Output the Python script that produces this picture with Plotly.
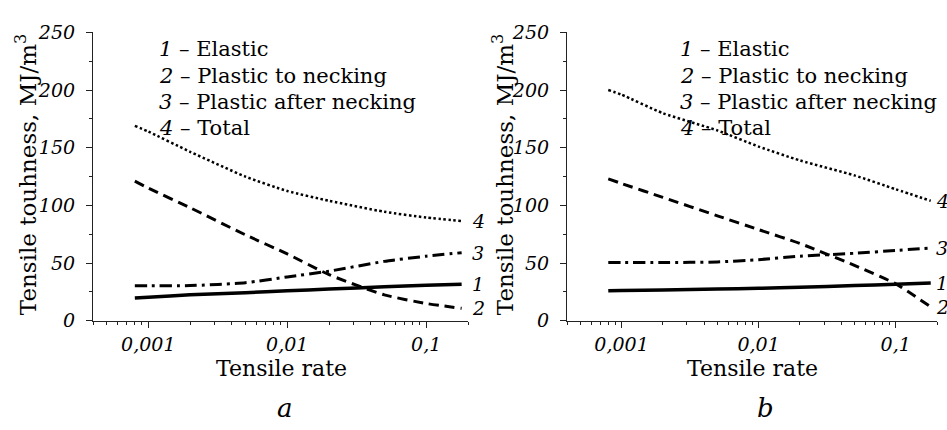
import numpy as np
import plotly.graph_objects as go

# ---------------- data ----------------
rate = [0.0008, 0.001, 0.002, 0.005, 0.01, 0.02, 0.05, 0.1, 0.18]

a_elastic = [19.8, 20.5, 22.5, 24.3, 26.0, 27.5, 29.5, 30.8, 31.7]
a_plastic_to_necking = [121, 115, 98, 74.5, 58, 40, 22.5, 15, 10.8]
a_plastic_after_necking = [30.3, 30.3, 30.5, 33.0, 38.0, 43.0, 51.5, 56.0, 59.0]
a_total = [169, 164, 146.5, 125, 112.5, 104, 94.5, 89.5, 86.5]

b_elastic = [26.0, 26.2, 26.7, 27.5, 28.2, 29.0, 30.5, 31.7, 32.8]
b_plastic_to_necking = [123, 119, 107, 91, 79, 67, 48, 32, 12]
b_plastic_after_necking = [50.5, 50.5, 50.5, 51.0, 53.0, 56.0, 58.5, 61.0, 63.0]
b_total = [200, 196, 180, 165, 151, 139, 126, 114, 104]

legend_lines = ["<i>1</i> – Elastic", "<i>2</i> – Plastic to necking",
                "<i>3</i> – Plastic after necking", "<i>4</i> – Total"]
curve_ids = ["1", "2", "3", "4"]
x_tickvals = [0.001, 0.01, 0.1]
x_ticktext = ["0,001", "0,01", "0,1"]
y_tickvals = [0, 50, 100, 150, 200, 250]
panel_labels = ["a", "b"]

# ---------------- style ----------------
FONT = "DejaVu Serif"
W, H = 947, 430

def px(x):   # page pixel -> paper fraction
    return x / W

def py(y):
    return 1 - y / H

styles = {
    "1": dict(color="black", width=3.5, dash="solid"),
    "2": dict(color="black", width=3, dash="10px,6px"),
    "3": dict(color="black", width=3, dash="12px,5px,3px,5px"),
    "4": dict(color="black", width=2.5, dash="2.5px,2.5px"),
}

fig = go.Figure()

panels = [
    ("x", "y", [a_elastic, a_plastic_to_necking, a_plastic_after_necking, a_total], 8),
    ("x2", "y2", [b_elastic, b_plastic_to_necking, b_plastic_after_necking, b_total], 3),
]
for xa, ya, series, xs in panels:
    for cid, vals in zip(curve_ids, series):
        fig.add_trace(go.Scatter(
            x=rate, y=vals, mode="lines", xaxis=xa, yaxis=ya,
            line=dict(shape="spline", smoothing=0.6, **styles[cid]),
            showlegend=False, hoverinfo="skip"))
        fig.add_annotation(
            x=np.log10(rate[-1]), y=vals[-1], xref=xa, yref=ya,
            text=f"<i>{cid}</i>", showarrow=False, xanchor="left",
            xshift=xs, font=dict(family=FONT, size=19, color="black"))

minor_x = [m * 10.0 ** e for e in range(-4, 0) for m in range(2, 10)]
minor_x = [v for v in minor_x if 0.0004 <= v <= 0.2] + [0.0004]

def xaxis_cfg(domain, anchor):
    return dict(
        type="log", domain=domain, anchor=anchor,
        range=[np.log10(0.0004), np.log10(0.2)],
        tickmode="array", tickvals=x_tickvals, ticktext=x_ticktext,
        ticks="outside", ticklen=6, tickwidth=1.2, tickcolor="#222",
        showline=True, linecolor="#222", linewidth=1.2,
        showgrid=False, zeroline=False,
        tickfont=dict(family=FONT, size=19, style="italic", color="black"),
        minor=dict(tickmode="array", tickvals=minor_x, ticks="outside",
                   ticklen=3, tickwidth=1, tickcolor="#222", showgrid=False),
    )

def yaxis_cfg(domain, anchor):
    return dict(
        domain=domain, anchor=anchor, range=[0, 250],
        tickmode="array", tickvals=y_tickvals,
        ticks="outside", ticklen=6, tickwidth=1.2, tickcolor="#222",
        showline=True, linecolor="#222", linewidth=1.2,
        showgrid=False, zeroline=False, ticklabelstandoff=7,
        tickfont=dict(family=FONT, size=19, style="italic", color="black"),
        minor=dict(dtick=25, ticks="outside", ticklen=3, tickwidth=1,
                   tickcolor="#222", showgrid=False),
    )

ydom = [py(326.5), py(22.5)]
fig.update_layout(
    width=W, height=H, margin=dict(l=0, r=0, t=0, b=0),
    plot_bgcolor="white", paper_bgcolor="white",
    font=dict(family=FONT, color="black"),
    xaxis=xaxis_cfg([px(93), px(468)], "y"),
    yaxis=yaxis_cfg(ydom, "x"),
    xaxis2=xaxis_cfg([px(567), px(937)], "y2"),
    yaxis2=yaxis_cfg(ydom, "x2"),
)

legend_x = [157, 678]
legend_y = [40, 68, 96, 123]
ytitle_x = [26, 503]
xtitle_x = [281, 752]
letter_x = [285, 765]
for p in range(2):
    for txt, yy in zip(legend_lines, legend_y):
        fig.add_annotation(x=px(legend_x[p]), y=py(yy), xref="paper", yref="paper",
                           text=txt, showarrow=False, xanchor="left", yanchor="middle",
                           font=dict(family=FONT, size=21, color="black"))
    fig.add_annotation(x=px(ytitle_x[p]), y=py(173), xref="paper", yref="paper",
                       text="Tensile touhness, MJ/m<sup>3</sup>", textangle=-90,
                       showarrow=False, xanchor="center", yanchor="middle",
                       font=dict(family=FONT, size=23, color="black"))
    fig.add_annotation(x=px(xtitle_x[p]), y=py(377), xref="paper", yref="paper",
                       text="Tensile rate", showarrow=False,
                       xanchor="center", yanchor="middle",
                       font=dict(family=FONT, size=22, color="black"))
    fig.add_annotation(x=px(letter_x[p]), y=py(418), xref="paper", yref="paper",
                       text=f"<i>{panel_labels[p]}</i>", showarrow=False,
                       xanchor="center", yanchor="middle",
                       font=dict(family=FONT, size=26, color="black"))

fig.write_html(
    "out.html",
    config={"displayModeBar": False},
    post_script="document.body.style.margin='0';"
                "document.documentElement.style.overflow='hidden';",
)
